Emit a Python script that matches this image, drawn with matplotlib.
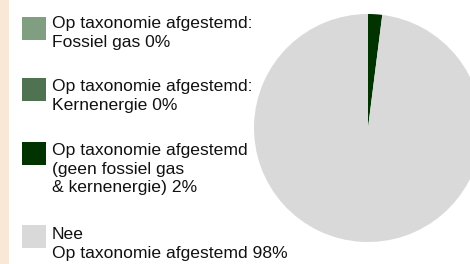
import matplotlib.pyplot as plt
from matplotlib.patches import Rectangle

# data
labels = ['Op taxonomie afgestemd:\nFossiel gas 0%',
          'Op taxonomie afgestemd:\nKernenergie 0%',
          'Op taxonomie afgestemd\n(geen fossiel gas\n& kernenergie) 2%',
          'Nee\nOp taxonomie afgestemd 98%']
values = [0, 0, 2, 98]
colors = ['#7f9f80', '#4f7350', '#003300', '#d9d9d9']

W, H = 470, 264
plt.rcParams['font.family'] = ['Liberation Sans', 'DejaVu Sans']

fig = plt.figure(figsize=(W / 100, H / 100), dpi=100)
fig.patch.set_facecolor('white')

# beige strip at the left edge
fig.patches.append(Rectangle((0, 0), 9 / W, 1, transform=fig.transFigure,
                             facecolor='#fae8d6', edgecolor='none'))

# pie, centre (368, 128) px, radius 114 px
cx, cy, r = 368, 128, 114
ax = fig.add_axes([(cx - r) / W, (H - cy - r) / H, 2 * r / W, 2 * r / H])
ax.pie(values, colors=colors, startangle=90, counterclock=False, radius=1,
       wedgeprops=dict(linewidth=0))
ax.set_xlim(-1, 1)
ax.set_ylim(-1, 1)

# legend drawn by hand
sq_tops = [17, 78, 142, 225]
txt_tops = [16, 79, 143, 227]
for top, ttop, lab, col in zip(sq_tops, txt_tops, labels, colors):
    fig.patches.append(Rectangle((22 / W, (H - top - 23) / H), 24 / W, 23 / H,
                                 transform=fig.transFigure,
                                 facecolor=col, edgecolor='none'))
    fig.text(52 / W, (H - ttop) / H, lab, fontsize=12.6, color='#111111',
             va='top', ha='left', linespacing=1.3)

fig.savefig('out.png', dpi=100)
